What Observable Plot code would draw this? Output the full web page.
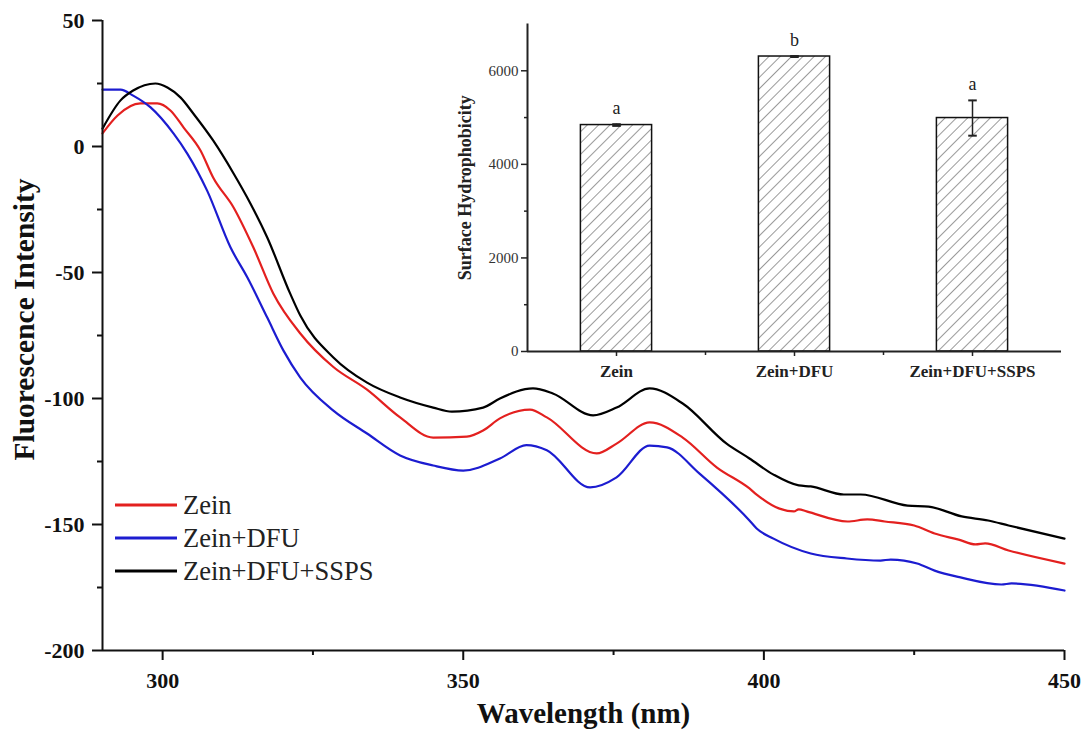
<!DOCTYPE html>
<html><head><meta charset="utf-8">
<script src="https://cdn.jsdelivr.net/npm/d3@7"></script>
<script src="https://cdn.jsdelivr.net/npm/@observablehq/plot@0.6"></script>
<style>
body{margin:0;background:#fff;}
#wrap{position:relative;width:1085px;height:740px;font-family:"Liberation Serif","Times New Roman",serif;}
#inset{position:absolute;left:440px;top:0;}
.leg{position:absolute;left:115px;height:30px;display:flex;align-items:center;font-size:26.5px;color:#222;}
.leg svg{margin-right:6px;}
</style></head><body><div id="wrap"></div>
<script>
// ---- spectra (wavelength nm, intensity) ----
const seriesNames = ["Zein", "Zein+DFU", "Zein+DFU+SSPS"];
const seriesColors = ["#e3201f", "#1c1cd0", "#000000"];

const zeinNm  = [290.0,292.5,296.3,299.1,301.3,303.5,306.3,308.4,311.8,315.1,318.4,322.9,328.4,334.0,339.5,345.0,350.6,353.3,356.1,361.1,363.9,372.2,375.5,381.0,386.5,392.2,397.6,398.8,402.6,405.0,405.8,407.1,413.9,417.2,420.1,425.0,428.4,432.4,435.2,436.8,440.7,450.0];
const zeinVal = [5.2,12.3,17.1,17.1,14.3,7.5,-1.6,-12.3,-24.2,-40.1,-58.3,-74.2,-87.5,-96.5,-107.5,-115.5,-115.1,-112.7,-107.9,-104.4,-107.5,-121.8,-117.9,-109.5,-115.5,-127.4,-135.7,-138.1,-143.7,-144.8,-144.0,-144.8,-148.8,-148.0,-148.8,-150.4,-153.6,-156.0,-157.9,-157.5,-160.3,-165.5];

const dfuNm  = [290.0,293.0,295.1,298.0,301.8,304.1,307.4,311.3,314.1,317.4,320.1,322.9,328.4,334.0,339.5,345.0,350.0,356.1,360.5,363.9,371.1,375.5,381.0,383.9,389.3,397.6,398.8,401.6,407.8,413.8,419.4,421.1,425.5,428.4,432.7,439.5,441.2,450.0];
const dfuVal = [22.6,22.6,20.2,15.5,5.2,-2.8,-17.5,-40.1,-52.0,-67.9,-81.0,-91.7,-104.8,-113.9,-122.6,-126.6,-128.6,-123.8,-118.5,-120.5,-135.3,-131.3,-118.7,-119.4,-129.8,-148.4,-151.6,-155.6,-161.5,-163.5,-164.3,-163.9,-165.5,-168.3,-171.0,-173.8,-173.4,-176.2];

const sspsNm  = [290.0,293.0,295.1,298.8,300.8,303.0,305.1,308.4,311.8,314.6,317.4,321.2,322.9,328.4,334.0,339.5,345.0,348.1,353.3,356.1,361.6,364.9,371.6,375.5,381.0,386.5,393.8,397.6,401.6,405.8,407.8,413.3,416.1,423.9,427.4,432.9,437.3,440.7,450.0];
const sspsVal = [7.1,18.3,22.2,25.0,23.4,19.4,13.1,2.4,-10.7,-22.6,-36.1,-58.3,-67.1,-83.7,-93.7,-99.6,-103.6,-105.2,-103.6,-100.0,-96.0,-98.0,-106.7,-103.6,-96.0,-102.0,-117.9,-123.8,-130.2,-134.5,-134.9,-138.1,-138.1,-142.5,-142.9,-146.8,-148.4,-150.4,-155.6];

const xTicks = [300, 350, 400, 450];
const xMinor = [325, 375, 425];
const yTicks = [-200, -150, -100, -50, 0, 50];
const yMinor = [-175, -125, -75, -25, 25];

// ---- inset bars ----
const barCats = ["Zein", "Zein+DFU", "Zein+DFU+SSPS"];
const barVals = [4840, 6305, 4990];
const barErr = [18, 10, 377];
const barLetters = ["a", "b", "a"];
const insetTicks = [0, 2000, 4000, 6000];
const insetMinor = [1000, 3000, 5000];

const FONT = '"Liberation Serif","Times New Roman",serif';
const plain = d => String(d);

const spectra = [];
[[zeinNm, zeinVal], [dfuNm, dfuVal], [sspsNm, sspsVal]].forEach(([nm, v], k) => {
  nm.forEach((x, i) => spectra.push({series: seriesNames[k], nm: x, v: v[i]}));
});

const main = Plot.plot({
  width: 1085, height: 740,
  marginLeft: 102, marginRight: 21, marginTop: 20, marginBottom: 90,
  style: {fontFamily: FONT, background: "transparent", color: "#111"},
  x: {domain: [290, 450]},
  y: {domain: [-200, 50]},
  color: {domain: seriesNames, range: seriesColors},
  marks: [
    Plot.line(spectra, {x: "nm", y: "v", z: "series", stroke: "series", strokeWidth: 2.2, curve: "monotone-x"}),
    Plot.ruleX([290], {y1: -200, y2: 50, strokeWidth: 2}),
    Plot.ruleY([-200], {strokeWidth: 2}),
    Plot.axisX({ticks: xTicks, tickSize: 10, tickPadding: 12, strokeWidth: 2, fontSize: 22, fontWeight: "bold", tickFormat: plain, label: null}),
    Plot.axisX({ticks: xMinor, tickSize: 5, strokeWidth: 2, tickFormat: () => "", label: null}),
    Plot.axisY({ticks: yTicks, tickSize: 10, tickPadding: 8, strokeWidth: 2, fontSize: 22, fontWeight: "bold", tickFormat: plain, label: null}),
    Plot.axisY({ticks: yMinor, tickSize: 5, strokeWidth: 2, tickFormat: () => "", label: null}),
    Plot.text(["Wavelength (nm)"], {text: d => d, frameAnchor: "bottom", textAnchor: "middle", dy: 72, fontSize: 29, fontWeight: "bold"}),
    Plot.text(["Fluorescence Intensity"], {text: d => d, frameAnchor: "left", textAnchor: "middle", dx: -78, dy: -16, rotate: -90, fontSize: 29.5, fontWeight: "bold"})
  ]
});
document.getElementById("wrap").appendChild(main);

// legend
const legTops = [490, 523, 556];
seriesNames.forEach((n, i) => {
  const d = document.createElement("div");
  d.className = "leg";
  d.style.top = legTops[i] + "px";
  d.innerHTML = `<svg width="62" height="6"><line x1="0" y1="3" x2="62" y2="3" stroke="${seriesColors[i]}" stroke-width="3"/></svg><span>${n}</span>`;
  document.getElementById("wrap").appendChild(d);
});

// inset
const bars = barCats.map((c, i) => ({i, c, v: barVals[i], e: barErr[i], l: barLetters[i]}));
const capHalf = 0.024;
const inset = Plot.plot({
  width: 640, height: 385,
  marginLeft: 87, marginRight: 19, marginTop: 23.5, marginBottom: 34,
  style: {fontFamily: FONT, background: "transparent", color: "#222"},
  x: {domain: [-0.5, 2.5]},
  y: {domain: [0, 7000]},
  marks: [
    Plot.rectY(bars, {x1: d => d.i - 0.2, x2: d => d.i + 0.2, y1: 0, y2: "v", fill: "url(#hatch)", stroke: "#111", strokeWidth: 1.5}),
    Plot.ruleX(bars, {x: "i", y1: d => d.v - d.e, y2: d => d.v + d.e, strokeWidth: 1.5}),
    Plot.link(bars, {x1: d => d.i - capHalf, x2: d => d.i + capHalf, y1: d => d.v + d.e, y2: d => d.v + d.e, strokeWidth: 2}),
    Plot.link(bars, {x1: d => d.i - capHalf, x2: d => d.i + capHalf, y1: d => d.v - d.e, y2: d => d.v - d.e, strokeWidth: 2}),
    Plot.text(bars, {x: "i", y: d => d.v + d.e, text: "l", dy: -16, fontSize: 18, fill: "#222"}),
    Plot.ruleX([-0.5], {y1: 0, y2: 7000, strokeWidth: 2}),
    Plot.ruleY([0], {strokeWidth: 2}),
    Plot.axisY({ticks: insetTicks, tickSize: 6, tickPadding: 3, strokeWidth: 1.5, fontSize: 15, fill: "#333", tickFormat: plain, label: null}),
    Plot.axisY({ticks: insetMinor, tickSize: 3, strokeWidth: 1.5, tickFormat: () => "", label: null}),
    Plot.axisX({ticks: [0, 1, 2], tickSize: 5, tickPadding: 8, strokeWidth: 1.5, tickFormat: i => barCats[i], fontSize: 17, fontWeight: "bold", label: null}),
    Plot.axisX({ticks: [0.5, 1.5], tickSize: 4, strokeWidth: 1.5, tickFormat: () => "", label: null}),
    Plot.text(["Surface Hydrophobicity"], {text: d => d, frameAnchor: "left", textAnchor: "middle", dx: -62, rotate: -90, fontSize: 18, fontWeight: "bold"})
  ]
});
inset.id = "inset";
const defs = d3.select(inset).insert("defs", ":first-child");
const pat = defs.append("pattern").attr("id", "hatch").attr("patternUnits", "userSpaceOnUse")
  .attr("width", 8).attr("height", 8).attr("patternTransform", "rotate(45)");
pat.append("rect").attr("width", 8).attr("height", 8).attr("fill", "#fff");
pat.append("line").attr("x1", 0).attr("y1", 0).attr("x2", 0).attr("y2", 8).attr("stroke", "#555").attr("stroke-width", 1.2);
document.getElementById("wrap").appendChild(inset);
</script>
</body></html>
